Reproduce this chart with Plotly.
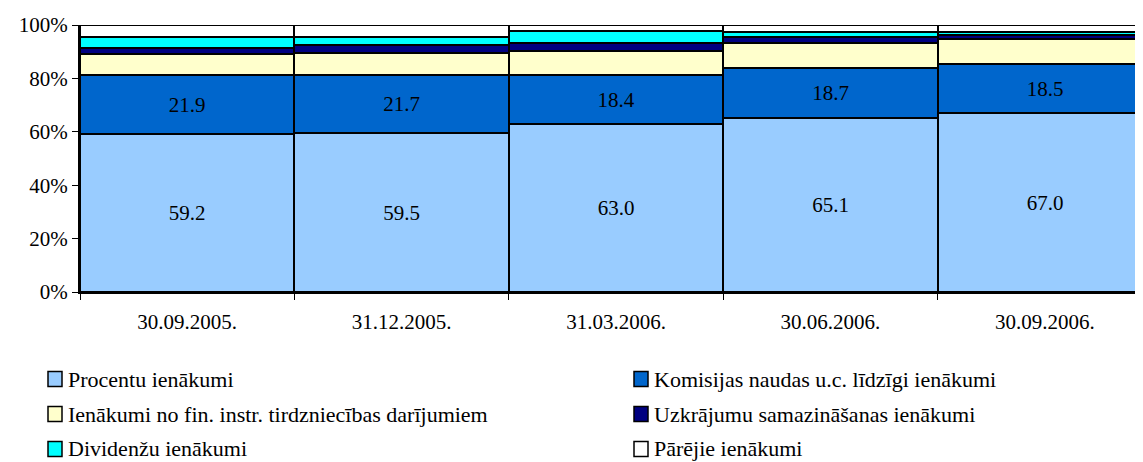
import plotly.graph_objects as go

categories = ["30.09.2005.", "31.12.2005.", "31.03.2006.", "30.06.2006.", "30.09.2006."]
procentu = [59.2, 59.5, 63.0, 65.1, 67.0]
komisijas = [21.9, 21.7, 18.4, 18.7, 18.5]
tirdzniecibas = [8.1, 8.4, 8.8, 9.4, 9.1]
uzkrajumu = [2.1, 3.0, 3.0, 2.4, 1.7]
dividenzu = [4.1, 2.9, 4.5, 1.8, 1.1]
parejie = [4.6, 4.5, 2.3, 2.6, 2.6]

y_ticks = [0, 20, 40, 60, 80, 100]
y_tick_labels = ["0%", "20%", "40%", "60%", "80%", "100%"]

series = [
    ("Procentu ienākumi", procentu, "#99CCFF", True),
    ("Komisijas naudas u.c. līdzīgi ienākumi", komisijas, "#0066CC", True),
    ("Ienākumi no fin. instr. tirdzniecības darījumiem", tirdzniecibas, "#FFFFCC", False),
    ("Uzkrājumu samazināšanas ienākumi", uzkrajumu, "#000080", False),
    ("Dividenžu ienākumi", dividenzu, "#00FFFF", False),
    ("Pārējie ienākumi", parejie, "#FFFFFF", False),
]

FONT = "'Times New Roman', 'Liberation Serif', Tinos, 'DejaVu Serif', serif"

# page has 8px body margin -> figure is offset by 8px
W, H = 1135, 454
L, T, B = 72, 17, 170
PW, PH = W - L, H - T - B  # plot area size in px

fig = go.Figure()
for name, vals, color, lab in series:
    fig.add_trace(go.Bar(
        x=categories, y=vals, name=name,
        marker=dict(color=color, line=dict(color="black", width=2)),
        text=[f"{v:.1f}" for v in vals] if lab else None,
        textposition="inside" if lab else "none",
        insidetextanchor="middle",
        textfont=dict(family=FONT, size=21, color="black"),
        showlegend=False,
        hoverinfo="name+y",
    ))

fig.update_layout(
    width=W, height=H,
    barmode="stack", bargap=0,
    paper_bgcolor="white", plot_bgcolor="white",
    margin=dict(l=L, r=0, t=T, b=B, autoexpand=False),
    font=dict(family=FONT, size=21, color="black"),
    uniformtext=dict(mode="show", minsize=10),
)
fig.update_xaxes(
    range=[-0.5, 4.458], tickson="boundaries",
    ticks="outside", ticklen=6, tickcolor="black", tickwidth=1,
    showline=True, linecolor="black", linewidth=2,
    tickfont=dict(family=FONT, size=21, color="black"),
    ticklabelstandoff=10,
    showgrid=False, fixedrange=True, automargin=False,
)
fig.update_yaxes(
    range=[0, 100], tickvals=y_ticks, ticktext=y_tick_labels,
    ticks="outside", ticklen=6, tickcolor="black", tickwidth=1,
    showline=True, linecolor="black", linewidth=2,
    tickfont=dict(family=FONT, size=21, color="black"),
    showgrid=False, zeroline=False, automargin=False,
)

# manual legend (positions given in page pixels)
legend_pos = [(48, 379), (634, 379), (48, 414), (634, 414), (48, 449), (634, 449)]
for (name, vals, color, lab), (lx, ly) in zip(series, legend_pos):
    fx, fy = lx - 8, ly - 8
    fig.add_shape(type="rect", xref="paper", yref="paper",
                  x0=(fx - L) / PW, x1=(fx - L + 14) / PW,
                  y0=(T + PH - fy - 7.5) / PH, y1=(T + PH - fy + 7.5) / PH,
                  fillcolor=color, line=dict(color="black", width=1.5))
    fig.add_annotation(xref="paper", yref="paper",
                       x=(fx - L + 18) / PW, y=(T + PH - fy) / PH,
                       xanchor="left", yanchor="middle", showarrow=False,
                       text=name, font=dict(family=FONT, size=22, color="black"))

fig.write_html("out.html")
